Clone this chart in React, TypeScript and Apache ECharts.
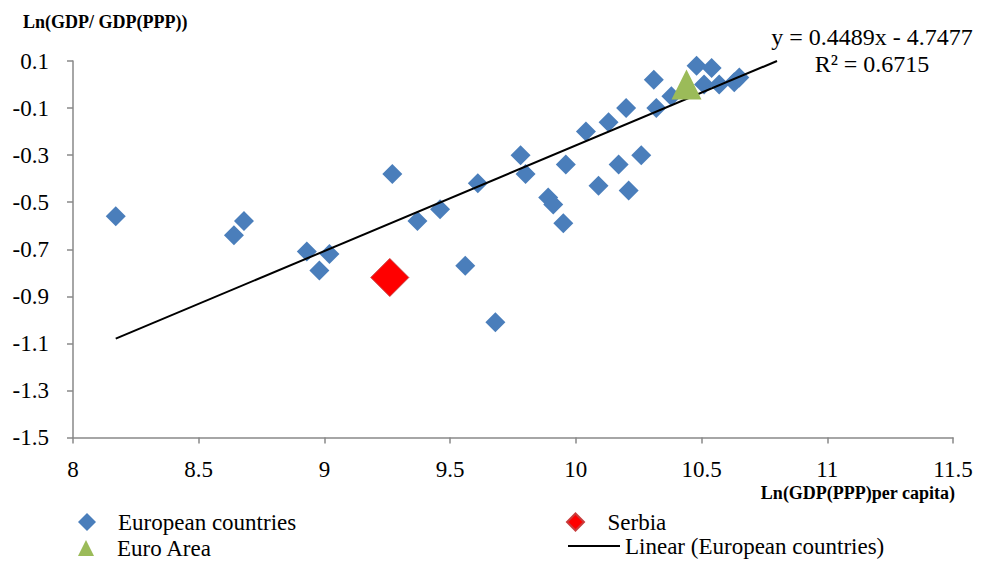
import React, { useEffect, useRef } from "react";
import * as echarts from "echarts";

// ---- data ----
const europeanX = [8.17, 8.64, 8.68, 8.93, 9.02, 8.98, 9.27, 9.37, 9.46, 9.56, 9.61, 9.68, 9.78, 9.80, 9.89, 9.91, 9.95, 9.96, 10.04, 10.09, 10.13, 10.17, 10.20, 10.21, 10.26, 10.31, 10.32, 10.38, 10.48, 10.51, 10.54, 10.57, 10.63, 10.65];
const europeanY = [-0.56, -0.64, -0.58, -0.71, -0.72, -0.79, -0.38, -0.58, -0.53, -0.77, -0.42, -1.01, -0.30, -0.38, -0.48, -0.51, -0.59, -0.34, -0.20, -0.43, -0.16, -0.34, -0.10, -0.45, -0.30, 0.02, -0.10, -0.05, 0.08, 0.00, 0.07, 0.00, 0.01, 0.03];
const serbiaPoint = [9.26, -0.82];
const euroAreaPoint = [10.44, 0.0];
const trendX = [8.17, 10.8];
const trendY = [-1.08, 0.1];
const equationText = "y = 0.4489x - 4.7477";
const r2Text = "R² = 0.6715";
const yTickLabels = ["-1.5", "-1.3", "-1.1", "-0.9", "-0.7", "-0.5", "-0.3", "-0.1", "0.1"];
const xMin = 8;
const xMax = 11.5;
const xInterval = 0.5;
const yMin = -1.5;
const yMax = 0.1;

const FONT = "Liberation Serif, serif";
const AXIS_COLOR = "#898989";
const DIAMOND = "path://M0,-1L1,0L0,1L-1,0Z";
const TRIANGLE = "path://M0,-1L1,1L-1,1Z";

const richSerif = { s: { fontFamily: FONT, fontSize: 23, color: "#000", lineHeight: 24 } };

export default function App() {
  const ref = useRef<HTMLDivElement>(null);

  useEffect(() => {
    if (!ref.current) return;
    document.body.style.margin = "0";
    const chart = echarts.init(ref.current, undefined, { renderer: "svg" });
    const europeanData = europeanX.map((x, i) => [x, europeanY[i]]);
    const trendData = trendX.map((x, i) => [x, trendY[i]]);

    const legendText = { fontFamily: FONT, fontSize: 23, color: "#000", lineHeight: 24, rich: richSerif };
    const legendFormatter = (name: string) => `{s|${name}}`;

    chart.setOption({
      animation: false,
      backgroundColor: "#fff",
      textStyle: { fontFamily: FONT },
      grid: { left: 73, top: 61, right: 32, bottom: 123.5 },
      xAxis: {
        type: "value",
        min: xMin,
        max: xMax,
        interval: xInterval,
        axisLine: { show: true, onZero: false, lineStyle: { color: AXIS_COLOR, width: 1.5 } },
        axisTick: { show: true, inside: false, length: 6, lineStyle: { color: AXIS_COLOR, width: 1.5 } },
        axisLabel: {
          fontFamily: FONT, fontSize: 23, color: "#000", margin: 20,
          formatter: (v: number) => `{s|${v}}`,
          rich: richSerif,
        },
        splitLine: { show: false },
      },
      yAxis: [
        {
          type: "value",
          min: yMin,
          max: yMax,
          position: "left",
          axisLine: { show: false },
          axisTick: { show: false },
          axisLabel: { show: false },
          splitLine: { show: false },
        },
        {
          type: "category",
          data: yTickLabels,
          boundaryGap: false,
          position: "left",
          offset: 0,
          axisLine: { show: true, lineStyle: { color: AXIS_COLOR, width: 1.5 } },
          axisTick: { show: true, inside: false, length: 6, interval: 0, lineStyle: { color: AXIS_COLOR, width: 1.5 } },
          axisLabel: {
            interval: 0, fontFamily: FONT, fontSize: 23, color: "#000", margin: 24,
            formatter: (v: string) => `{s|${v}}`,
            rich: richSerif,
          },
          splitLine: { show: false },
        },
      ],
      legend: [
        {
          left: 78, top: 510, padding: 0, itemWidth: 52, itemHeight: 18,
          textStyle: legendText, formatter: legendFormatter,
          data: [{ name: "European countries", icon: DIAMOND }],
        },
        {
          left: 78, top: 536, padding: 0, itemWidth: 52, itemHeight: 16,
          textStyle: legendText, formatter: legendFormatter,
          data: [{ name: "Euro Area", icon: TRIANGLE }],
        },
        {
          left: 566, top: 510, padding: 0, itemWidth: 54, itemHeight: 17,
          textStyle: legendText, formatter: legendFormatter,
          data: [{ name: "Serbia", icon: DIAMOND }],
        },
        {
          left: 568, top: 534, padding: 0, itemWidth: 52, itemHeight: 2,
          textStyle: legendText, formatter: legendFormatter,
          data: [{ name: "Linear (European countries)", icon: "rect" }],
        },
      ],
      graphic: [
        {
          type: "text", left: 23, top: 13,
          style: { text: "Ln(GDP/ GDP(PPP))", fontFamily: FONT, fontSize: 18, fontWeight: "bold", fill: "#000" },
        },
        {
          type: "text", x: 955, y: 493,
          style: { text: "Ln(GDP(PPP)per capita)", fontFamily: FONT, fontSize: 18, fontWeight: "bold", fill: "#000", align: "right", verticalAlign: "middle" },
        },
        {
          type: "text", x: 872, y: 37,
          style: { text: equationText, fontFamily: FONT, fontSize: 24, fill: "#000", align: "center", verticalAlign: "middle" },
        },
        {
          type: "text", x: 872, y: 64,
          style: { text: r2Text, fontFamily: FONT, fontSize: 24, fill: "#000", align: "center", verticalAlign: "middle" },
        },
      ],
      series: [
        {
          name: "European countries",
          type: "scatter",
          yAxisIndex: 0,
          symbol: "diamond",
          symbolSize: 20,
          itemStyle: { color: "#4A7EBB", opacity: 1 },
          data: europeanData,
          z: 2,
        },
        {
          name: "Serbia",
          type: "scatter",
          yAxisIndex: 0,
          symbol: "diamond",
          symbolSize: 38,
          itemStyle: { color: "#FF0000", borderColor: "#C83C3C", borderWidth: 1, opacity: 1 },
          data: [serbiaPoint],
          z: 3,
        },
        {
          name: "Linear (European countries)",
          type: "line",
          yAxisIndex: 0,
          showSymbol: false,
          symbol: "none",
          color: "#000",
          lineStyle: { color: "#000", width: 2 },
          itemStyle: { color: "#000" },
          data: trendData,
          z: 4,
        },
        {
          name: "Euro Area",
          type: "scatter",
          yAxisIndex: 0,
          symbol: "triangle",
          symbolSize: 30,
          itemStyle: { color: "#9BBB59", opacity: 1 },
          data: [euroAreaPoint],
          z: 5,
        },
      ],
    });

    return () => chart.dispose();
  }, []);

  return (
    <div>
      <div ref={ref} style={{ width: 985, height: 561 }} />
    </div>
  );
}
